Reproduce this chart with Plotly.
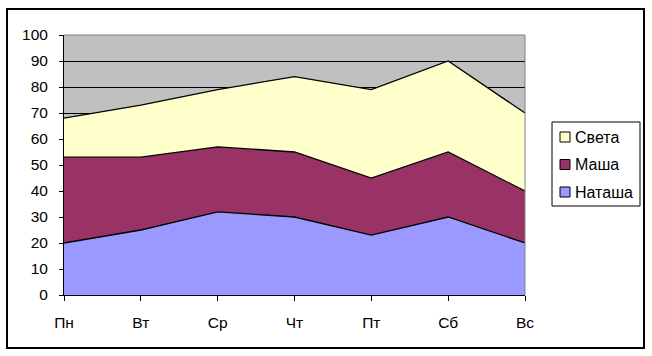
import plotly.graph_objects as go

days = ["Пн", "Вт", "Ср", "Чт", "Пт", "Сб", "Вс"]
natasha = [20, 25, 32, 30, 23, 30, 20]
masha = [33, 28, 25, 25, 22, 25, 20]
sveta = [15, 20, 22, 29, 34, 35, 30]

names = ["Наташа", "Маша", "Света"]
colors = ["#9999FF", "#993366", "#FFFFCC"]
series = [natasha, masha, sveta]

W, H = 652, 356
L, R, T, B = 64, 525, 35, 295

FONT = "Liberation Sans, Arial, sans-serif"

fig = go.Figure()
for name, vals, col in zip(names, series, colors):
    fig.add_trace(go.Scatter(
        x=list(range(len(days))), y=vals, name=name, mode="lines",
        stackgroup="one", fillcolor=col, showlegend=False,
        line=dict(color="black", width=1.3), hoverinfo="skip"))


def px(x):
    return (x - L) / (R - L)


def py(y):
    return (B - y) / (B - T)


shapes = [
    dict(type="rect", xref="paper", yref="paper",
         x0=px(7), x1=px(644), y0=py(348), y1=py(9),
         line=dict(color="black", width=2), layer="below"),
    dict(type="line", xref="paper", yref="paper",
         x0=0, x1=1, y0=1, y1=1, line=dict(color="#808080", width=1)),
    dict(type="line", xref="paper", yref="paper",
         x0=1, x1=1, y0=0, y1=1, line=dict(color="#808080", width=1)),
    # legend box
    dict(type="rect", xref="paper", yref="paper",
         x0=px(552), x1=px(640), y0=py(206), y1=py(122),
         line=dict(color="black", width=1), fillcolor="white"),
]
annotations = []
# legend items, top to bottom: reversed stacking order
item_y = [137, 164.5, 192]
for i, idx in enumerate([2, 1, 0]):
    yc = item_y[i]
    shapes.append(dict(type="rect", xref="paper", yref="paper",
                       x0=px(560), x1=px(570), y0=py(yc + 5), y1=py(yc - 5),
                       line=dict(color="black", width=1),
                       fillcolor=colors[idx]))
    annotations.append(dict(xref="paper", yref="paper", x=px(573), y=py(yc),
                            xanchor="left", yanchor="middle", showarrow=False,
                            text=names[idx],
                            font=dict(family=FONT, size=16, color="black")))

fig.update_layout(
    width=W, height=H,
    margin=dict(l=L, r=W - R, t=T, b=H - B, autoexpand=False),
    paper_bgcolor="white", plot_bgcolor="#C0C0C0",
    font=dict(family=FONT, size=15.5, color="black"),
    showlegend=False,
    xaxis=dict(range=[0, 6], tickvals=list(range(len(days))), ticktext=days,
               showgrid=False, zeroline=False, showline=True, linecolor="black",
               linewidth=1, ticks="outside", ticklen=5, tickcolor="black",
               ticklabelstandoff=8, automargin=False,
               tickfont=dict(size=15.5)),
    yaxis=dict(range=[0, 100], dtick=10, showgrid=True, gridcolor="black",
               gridwidth=1, zeroline=False, showline=True, linecolor="black",
               linewidth=1, ticks="outside", ticklen=4, tickcolor="black",
               ticklabelstandoff=8, automargin=False,
               tickfont=dict(size=15.5)),
    shapes=shapes,
    annotations=annotations,
)

fig.write_html("out.html",
               config={"displayModeBar": False, "staticPlot": True},
               post_script="document.body.style.margin='0';"
                           "document.body.style.overflow='hidden';")
